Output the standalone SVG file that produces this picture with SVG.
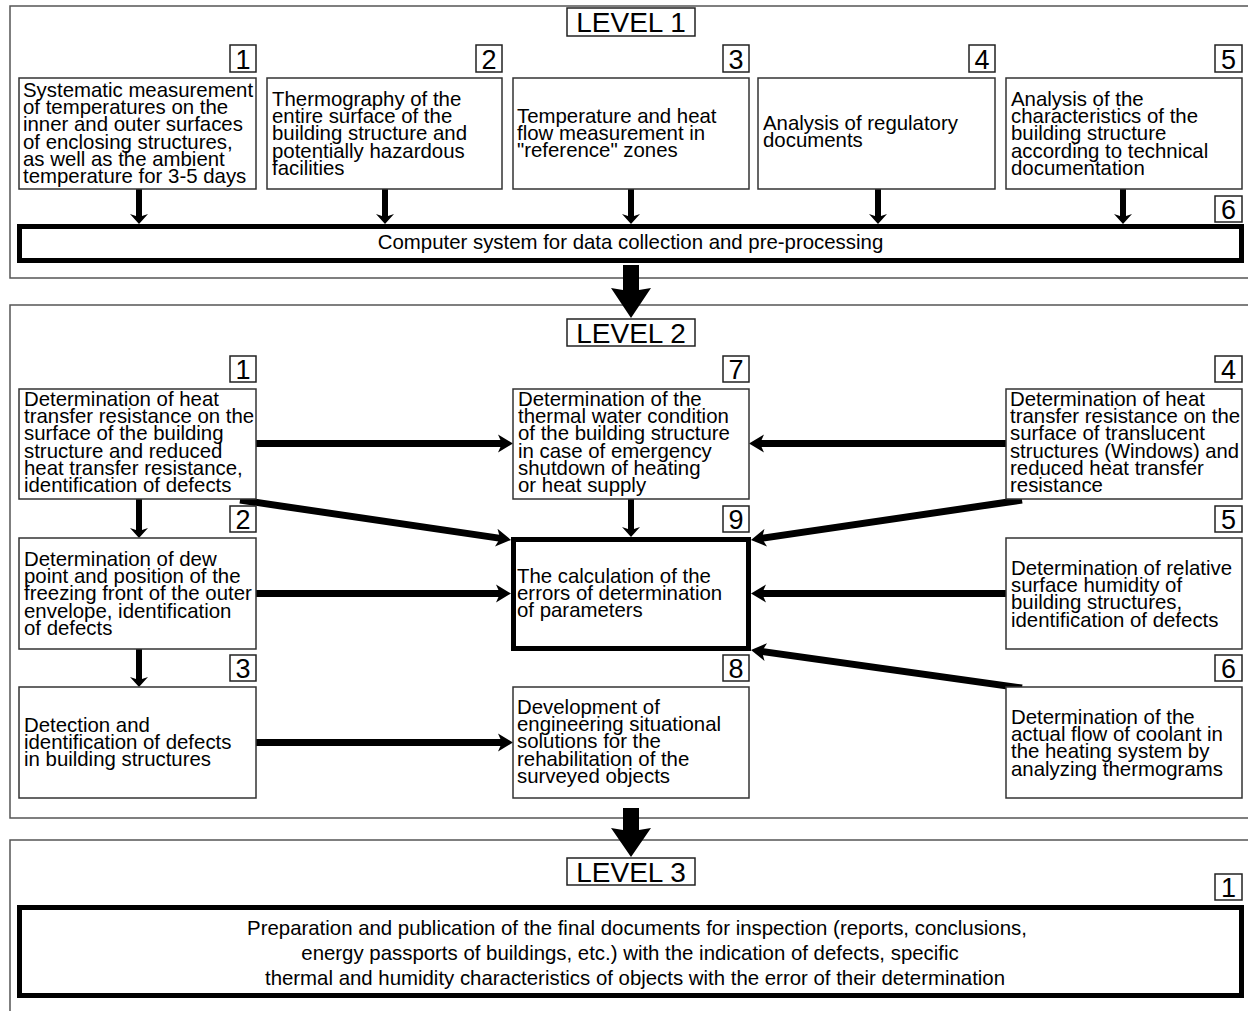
<svg xmlns="http://www.w3.org/2000/svg" width="1248" height="1011" viewBox="0 0 1248 1011">
<style>
.frame{fill:none;stroke:#555;stroke-width:1.5}
.box{fill:#fff;stroke:#333;stroke-width:1.5}
.thick{fill:#fff;stroke:#000;stroke-width:5}
.num{fill:#fff;stroke:#222;stroke-width:1.5}
.t{font-family:"Liberation Sans",Arial,sans-serif;font-size:20.4px;fill:#000}
.n{font-family:"Liberation Sans",Arial,sans-serif;font-size:27px;fill:#000;text-anchor:middle}
.lv{font-family:"Liberation Sans",Arial,sans-serif;font-size:28px;fill:#000;text-anchor:middle}
.c{font-family:"Liberation Sans",Arial,sans-serif;font-size:20.4px;fill:#000;text-anchor:middle}
.l3{font-family:"Liberation Sans",Arial,sans-serif;font-size:20.4px;fill:#000;text-anchor:middle}
.w7{stroke:#000;stroke-width:7;fill:none;marker-end:url(#ah)}
.w6{stroke:#000;stroke-width:6;fill:none;marker-end:url(#ahs)}
</style>
<defs>
<marker id="ah" markerUnits="userSpaceOnUse" viewBox="0 0 15 20" markerWidth="15" markerHeight="20" refX="8" refY="10" orient="auto"><path d="M0,1 L15,10 L0,19 L4,10 z" fill="#000"/></marker>
<marker id="ahs" markerUnits="userSpaceOnUse" viewBox="0 0 10 18" markerWidth="10" markerHeight="18" refX="5" refY="9" orient="auto"><path d="M0,0 L10,9 L0,18 L3,9 z" fill="#000"/></marker>
</defs>
<rect width="1248" height="1011" fill="#fff"/>
<g id="frames">
<rect class="frame" x="10" y="6" width="1260" height="272"/>
<rect class="frame" x="10" y="305" width="1260" height="513"/>
<rect class="frame" x="10" y="840" width="1260" height="200"/>
</g>
<g id="connectors">
<line class="w6" x1="139" y1="189" x2="139" y2="219"/>
<line class="w6" x1="385" y1="189" x2="385" y2="219"/>
<line class="w6" x1="631" y1="189" x2="631" y2="219"/>
<line class="w6" x1="878" y1="189" x2="878" y2="219"/>
<line class="w6" x1="1123" y1="189" x2="1123" y2="219"/>
<polygon points="623,265 639,265 639,290 651,288 631,318 611,288 623,290" fill="#000"/>
<line class="w7" x1="256" y1="443.5" x2="506" y2="443.5"/>
<line class="w7" x1="1006" y1="443.5" x2="756" y2="443.5"/>
<line class="w7" x1="240" y1="500" x2="504.1" y2="538.9"/>
<line class="w7" x1="1022" y1="500" x2="757.9" y2="538.9"/>
<line class="w6" x1="631" y1="499" x2="631" y2="532"/>
<line class="w6" x1="139" y1="499" x2="139" y2="533"/>
<line class="w6" x1="139" y1="649" x2="139" y2="682"/>
<line class="w7" x1="256" y1="593.5" x2="504" y2="593.5"/>
<line class="w7" x1="1006" y1="593.5" x2="758" y2="593.5"/>
<line class="w7" x1="1022" y1="688" x2="757.9" y2="651"/>
<line class="w7" x1="256" y1="742.5" x2="506" y2="742.5"/>
<polygon points="623,808 639,808 639,830 651,828 631,857 611,828 623,830" fill="#000"/>
</g>
<g id="level1-title"><rect class="num" x="567" y="8" width="128" height="28"/><text class="lv" x="631" y="32">LEVEL 1</text></g>
<g id="l1-n1"><rect class="box" x="19" y="78" width="237" height="111"/><rect class="num" x="230" y="45" width="26" height="27"/><text class="n" x="243" y="69">1</text>
<text class="t" x="23"><tspan x="23" y="97">Systematic measurement</tspan><tspan x="23" dy="17.2">of temperatures on the</tspan><tspan x="23" dy="17.2">inner and outer surfaces</tspan><tspan x="23" dy="17.2">of enclosing  structures,</tspan><tspan x="23" dy="17.2">as well as the ambient</tspan><tspan x="23" dy="17.2">temperature for 3-5 days</tspan></text></g>
<g id="l1-n2"><rect class="box" x="267" y="78" width="235" height="111"/><rect class="num" x="476" y="45" width="26" height="27"/><text class="n" x="489" y="69">2</text>
<text class="t"><tspan x="272" y="106">Thermography of the</tspan><tspan x="272" dy="17.2">entire surface of the</tspan><tspan x="272" dy="17.2">building structure and</tspan><tspan x="272" dy="17.2">potentially hazardous</tspan><tspan x="272" dy="17.2">facilities</tspan></text></g>
<g id="l1-n3"><rect class="box" x="513" y="78" width="236" height="111"/><rect class="num" x="723" y="45" width="26" height="27"/><text class="n" x="736" y="69">3</text>
<text class="t"><tspan x="517" y="123">Temperature and heat</tspan><tspan x="517" dy="17.2">flow measurement in</tspan><tspan x="517" dy="17.2">"reference" zones</tspan></text></g>
<g id="l1-n4"><rect class="box" x="758" y="78" width="237" height="111"/><rect class="num" x="969" y="45" width="26" height="27"/><text class="n" x="982" y="69">4</text>
<text class="t"><tspan x="763" y="130">Analysis of regulatory</tspan><tspan x="763" dy="17.2">documents</tspan></text></g>
<g id="l1-n5"><rect class="box" x="1006" y="78" width="236" height="111"/><rect class="num" x="1215" y="45" width="27" height="27"/><text class="n" x="1228.5" y="69">5</text>
<text class="t"><tspan x="1011" y="106">Analysis of the</tspan><tspan x="1011" dy="17.2">characteristics of the</tspan><tspan x="1011" dy="17.2">building structure</tspan><tspan x="1011" dy="17.2">according to technical</tspan><tspan x="1011" dy="17.2">documentation</tspan></text></g>
<g id="l1-n6"><rect class="thick" x="19.5" y="226.5" width="1222" height="34"/><rect class="num" x="1215" y="196" width="27" height="26"/><text class="n" x="1228.5" y="219">6</text>
<text class="c" x="630.5" y="249">Computer system for data collection and pre-processing</text></g>
<g id="level2-title"><rect class="num" x="567" y="319" width="128" height="27"/><text class="lv" x="631" y="343">LEVEL 2</text></g>
<g id="l2-n1"><rect class="box" x="19" y="389" width="237" height="110"/><rect class="num" x="230" y="356" width="26" height="26"/><text class="n" x="243" y="379">1</text>
<text class="t"><tspan x="24" y="406">Determination of heat</tspan><tspan x="24" dy="17.2">transfer resistance on the</tspan><tspan x="24" dy="17.2">surface of the building</tspan><tspan x="24" dy="17.2">structure and reduced</tspan><tspan x="24" dy="17.2">heat transfer resistance,</tspan><tspan x="24" dy="17.2">identification of defects</tspan></text></g>
<g id="l2-n7"><rect class="box" x="513" y="389" width="236" height="110"/><rect class="num" x="723" y="356" width="26" height="26"/><text class="n" x="736" y="379">7</text>
<text class="t"><tspan x="518" y="406">Determination of the</tspan><tspan x="518" dy="17.2">thermal water condition</tspan><tspan x="518" dy="17.2">of the building structure</tspan><tspan x="518" dy="17.2">in case of emergency</tspan><tspan x="518" dy="17.2">shutdown of heating</tspan><tspan x="518" dy="17.2">or heat supply</tspan></text></g>
<g id="l2-n4"><rect class="box" x="1006" y="389" width="236" height="110"/><rect class="num" x="1215" y="356" width="27" height="26"/><text class="n" x="1228.5" y="379">4</text>
<text class="t"><tspan x="1010" y="406">Determination of heat</tspan><tspan x="1010" dy="17.2">transfer resistance on the</tspan><tspan x="1010" dy="17.2">surface of translucent</tspan><tspan x="1010" dy="17.2" textLength="229" lengthAdjust="spacingAndGlyphs">structures (Windows) and</tspan><tspan x="1010" dy="17.2">reduced heat transfer</tspan><tspan x="1010" dy="17.2">resistance</tspan></text></g>
<g id="l2-n2"><rect class="box" x="19" y="538" width="237" height="111"/><rect class="num" x="230" y="506" width="26" height="26"/><text class="n" x="243" y="529">2</text>
<text class="t"><tspan x="24" y="566">Determination of dew</tspan><tspan x="24" dy="17.2">point and position of the</tspan><tspan x="24" dy="17.2">freezing front of the outer</tspan><tspan x="24" dy="17.2">envelope, identification</tspan><tspan x="24" dy="17.2">of defects</tspan></text></g>
<g id="l2-n9"><rect class="thick" x="513.5" y="539.5" width="235" height="109"/><rect class="num" x="723" y="506" width="26" height="26"/><text class="n" x="736" y="529">9</text>
<text class="t"><tspan x="517" y="583">The calculation of the</tspan><tspan x="517" dy="17.2">errors of determination</tspan><tspan x="517" dy="17.2">of parameters</tspan></text></g>
<g id="l2-n5"><rect class="box" x="1006" y="538" width="236" height="111"/><rect class="num" x="1215" y="506" width="27" height="26"/><text class="n" x="1228.5" y="529">5</text>
<text class="t"><tspan x="1011" y="575">Determination of relative</tspan><tspan x="1011" dy="17.2">surface humidity of</tspan><tspan x="1011" dy="17.2">building structures,</tspan><tspan x="1011" dy="17.2">identification of defects</tspan></text></g>
<g id="l2-n3"><rect class="box" x="19" y="687" width="237" height="111"/><rect class="num" x="230" y="655" width="26" height="26"/><text class="n" x="243" y="678">3</text>
<text class="t"><tspan x="24" y="732">Detection and</tspan><tspan x="24" dy="17.2">identification of defects</tspan><tspan x="24" dy="17.2">in building structures</tspan></text></g>
<g id="l2-n8"><rect class="box" x="513" y="687" width="236" height="111"/><rect class="num" x="723" y="655" width="26" height="26"/><text class="n" x="736" y="678">8</text>
<text class="t"><tspan x="517" y="714">Development of</tspan><tspan x="517" dy="17.2">engineering situational</tspan><tspan x="517" dy="17.2">solutions for the</tspan><tspan x="517" dy="17.2">rehabilitation of the</tspan><tspan x="517" dy="17.2">surveyed objects</tspan></text></g>
<g id="l2-n6"><rect class="box" x="1006" y="687" width="236" height="111"/><rect class="num" x="1215" y="655" width="27" height="26"/><text class="n" x="1228.5" y="678">6</text>
<text class="t"><tspan x="1011" y="724">Determination of the</tspan><tspan x="1011" dy="17.2">actual flow of coolant in</tspan><tspan x="1011" dy="17.2">the heating system by</tspan><tspan x="1011" dy="17.2">analyzing thermograms</tspan></text></g>
<g id="level3-title"><rect class="num" x="567" y="858" width="128" height="27"/><text class="lv" x="631" y="882">LEVEL 3</text></g>
<g id="l3-n1"><rect class="thick" x="19.5" y="907.5" width="1222" height="88"/><rect class="num" x="1215" y="874" width="27" height="26"/><text class="n" x="1228.5" y="897">1</text>
<text class="l3"><tspan x="637" y="935">Preparation and publication of the final documents for inspection (reports, conclusions,</tspan><tspan x="630" y="960">energy passports of buildings, etc.) with the indication of defects, specific</tspan><tspan x="635" y="985">thermal and humidity characteristics of objects with the error of their determination</tspan></text></g>
</svg>
